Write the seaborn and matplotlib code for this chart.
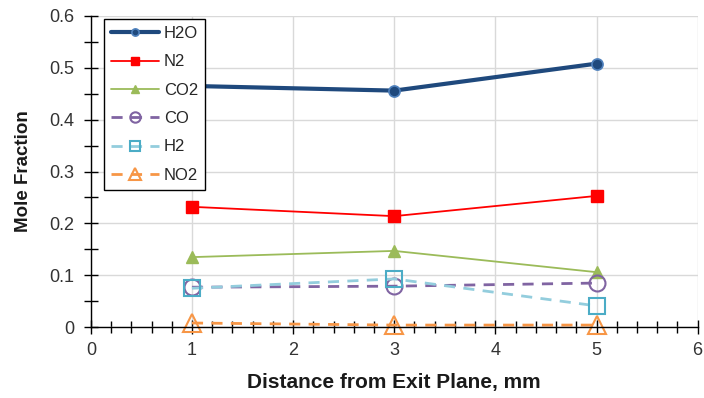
import matplotlib
matplotlib.use("Agg")
import matplotlib.pyplot as plt
from matplotlib.ticker import MultipleLocator
import seaborn as sns
import pandas as pd

distance = [1, 3, 5]
h2o = [0.465, 0.456, 0.508]
n2 = [0.232, 0.214, 0.253]
co2 = [0.135, 0.147, 0.106]
co = [0.077, 0.079, 0.085]
h2 = [0.075, 0.093, 0.041]
no2 = [0.008, 0.004, 0.004]

species = ["H2O", "N2", "CO2", "CO", "H2", "NO2"]
values = [h2o, n2, co2, co, h2, no2]

sns.set_theme(style="white")
plt.rcParams["font.family"] = ["Liberation Sans", "DejaVu Sans"]

styles = {
    "H2O": dict(color="#1F497D", lw=3.0, ls="-", marker="o", ms=8, mfc="#1F497D", mec="#4F81BD", mew=1.2),
    "N2": dict(color="#FF0000", lw=1.3, ls="-", marker="s", ms=9, mfc="#FF0000", mec="#FF0000", mew=1),
    "CO2": dict(color="#9BBB59", lw=1.3, ls="-", marker="^", ms=9, mfc="#9BBB59", mec="#9BBB59", mew=1),
    "CO": dict(color="#8064A2", lw=2.0, ls=(0, (4, 3)), marker="o", ms=11.5, mfc="none", mec="#8064A2", mew=1.5),
    "H2": dict(color="#93CDDD", lw=2.0, ls=(0, (4, 3)), marker="s", ms=11, mfc="none", mec="#4BACC6", mew=1.5),
    "NO2": dict(color="#F79646", lw=2.0, ls=(0, (4, 3)), marker="^", ms=13, mfc="none", mec="#F79646", mew=1.5),
}

fig = plt.figure(figsize=(7.04, 3.98), dpi=100)
ax = fig.add_axes([0.129, 0.178, 0.862, 0.782])

for name, vals in zip(species, values):
    df = pd.DataFrame({"Distance": distance, "Fraction": vals})
    st = styles[name]
    sns.lineplot(data=df, x="Distance", y="Fraction", ax=ax, label=name,
                 color=st["color"], linewidth=st["lw"], linestyle=st["ls"],
                 marker=st["marker"], markersize=st["ms"], markerfacecolor=st["mfc"],
                 markeredgecolor=st["mec"], markeredgewidth=st["mew"], clip_on=False)

ax.set_xlim(0, 6)
ax.set_ylim(0, 0.6)
ax.xaxis.set_major_locator(MultipleLocator(1))
ax.xaxis.set_minor_locator(MultipleLocator(0.2))
ax.yaxis.set_major_locator(MultipleLocator(0.1))
ax.yaxis.set_minor_locator(MultipleLocator(0.05))
ax.set_yticks([0, 0.1, 0.2, 0.3, 0.4, 0.5, 0.6])
ax.set_yticklabels(["0", "0.1", "0.2", "0.3", "0.4", "0.5", "0.6"])

ax.grid(True, which="major", color="#D9D9D9", lw=1.0)
ax.set_axisbelow(True)
for s in ["top", "right"]:
    ax.spines[s].set_visible(False)
ax.spines["left"].set_color("black")
ax.spines["bottom"].set_color("black")
ax.spines["left"].set_linewidth(1.0)
ax.spines["bottom"].set_linewidth(1.0)

ax.tick_params(axis="x", which="major", direction="inout", length=10, width=1, color="black",
               labelsize=13, pad=6, bottom=True)
ax.tick_params(axis="x", which="minor", direction="inout", length=8, width=1, color="black", bottom=True)
ax.tick_params(axis="y", which="major", direction="inout", length=10, width=1, color="black",
               labelsize=13, pad=7, left=True)
ax.tick_params(axis="y", which="minor", direction="inout", length=10, width=1, color="black", left=True)
for lab in ax.get_xticklabels() + ax.get_yticklabels():
    lab.set_color("#333333")

ax.set_xlabel("Distance from Exit Plane, mm", fontsize=15, fontweight="bold", color="#1A1A1A", labelpad=10)
ax.set_ylabel("Mole Fraction", fontsize=13.5, fontweight="bold", color="#1A1A1A", labelpad=12)

leg = ax.legend(loc="upper left", bbox_to_anchor=(0.021, 0.99), fontsize=12, frameon=True,
                fancybox=False, edgecolor="black", framealpha=1, handlelength=2.9,
                labelspacing=0.8, borderpad=0.42, handletextpad=0.3, borderaxespad=0,
                markerscale=0.65)
leg.get_frame().set_linewidth(1.0)
for t in leg.get_texts():
    t.set_color("#262626")

fig.savefig("out.png", dpi=100)
